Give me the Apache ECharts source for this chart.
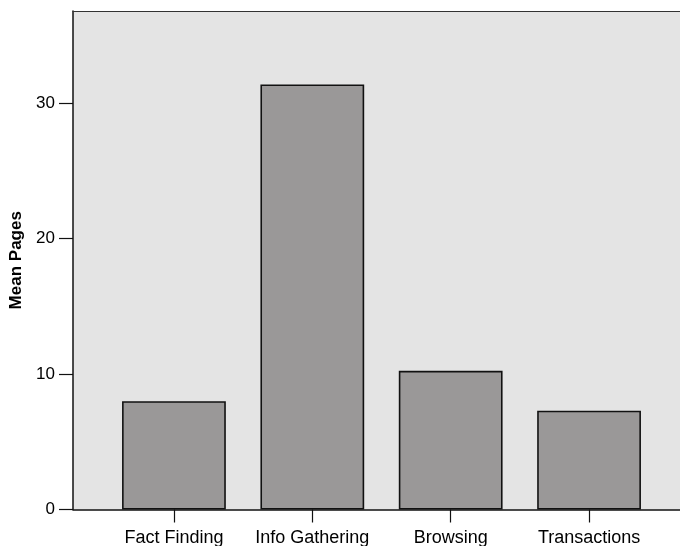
<!DOCTYPE html>
<html>
<head>
<meta charset="utf-8">
<script src="https://cdn.jsdelivr.net/npm/echarts@6/dist/echarts.min.js"></script>
<style>html,body{margin:0;padding:0;background:#fff;}#c{width:680px;height:546px;}</style>
</head>
<body>
<div id="c"></div>
<script>
var categories = ['Fact Finding', 'Info Gathering', 'Browsing', 'Transactions'];
var meanPages = [8.0, 31.38, 10.24, 7.29];
var yTicks = [0, 10, 20, 30];
var yMax = 36.8;

var FONT = '"Liberation Sans", Arial, sans-serif';
var chart = echarts.init(document.getElementById('c'), null, {renderer: 'canvas'});
chart.setOption({
  animation: false,
  grid: [
    {left: 73, right: 0, top: 11, bottom: 36.5, show: true, backgroundColor: '#e4e4e4', borderWidth: 0,
      containLabel: false, outerBoundsMode: 'none'},
    {left: 104.75, right: 21.75, top: 11, bottom: 36.5, containLabel: false, outerBoundsMode: 'none'}
  ],
  xAxis: [
    {type: 'value', gridIndex: 0, position: 'bottom', min: 0, max: 1,
      axisLine: {show: true, onZero: false, lineStyle: {color: '#111', width: 1.5}},
      axisTick: {show: false}, axisLabel: {show: false}, splitLine: {show: false}},
    {type: 'value', gridIndex: 0, position: 'top', min: 0, max: 1,
      axisLine: {show: true, onZero: false, lineStyle: {color: '#333', width: 1.2}},
      axisTick: {show: false}, axisLabel: {show: false}, splitLine: {show: false}},
    {type: 'category', gridIndex: 1, data: categories, boundaryGap: true,
      axisLine: {show: false},
      axisTick: {show: true, alignWithLabel: true, interval: 0, length: 13, lineStyle: {color: '#111', width: 1.2}},
      axisLabel: {interval: 0, hideOverlap: false, margin: 20, color: '#000', fontSize: 18, fontFamily: FONT}}
  ],
  yAxis: [
    {type: 'value', gridIndex: 0, min: 0, max: yMax, interval: 10,
      name: 'Mean Pages', nameLocation: 'middle', nameGap: 43,
      nameTextStyle: {color: '#000', fontSize: 17, fontWeight: 'bold', fontFamily: FONT},
      axisLine: {show: true, lineStyle: {color: '#111', width: 1.5}},
      axisTick: {show: true, length: 14, customValues: yTicks, lineStyle: {color: '#111', width: 1.2}},
      axisLabel: {margin: 18, color: '#000', fontSize: 17, fontFamily: FONT, customValues: yTicks},
      splitLine: {show: false}},
    {type: 'value', gridIndex: 1, min: 0, max: yMax, show: false}
  ],
  series: [{
    type: 'bar', xAxisIndex: 2, yAxisIndex: 1, data: meanPages,
    barWidth: '75%',
    itemStyle: {color: '#9a9898', borderColor: '#111', borderWidth: 1.6}
  }]
});
</script>
</body>
</html>
